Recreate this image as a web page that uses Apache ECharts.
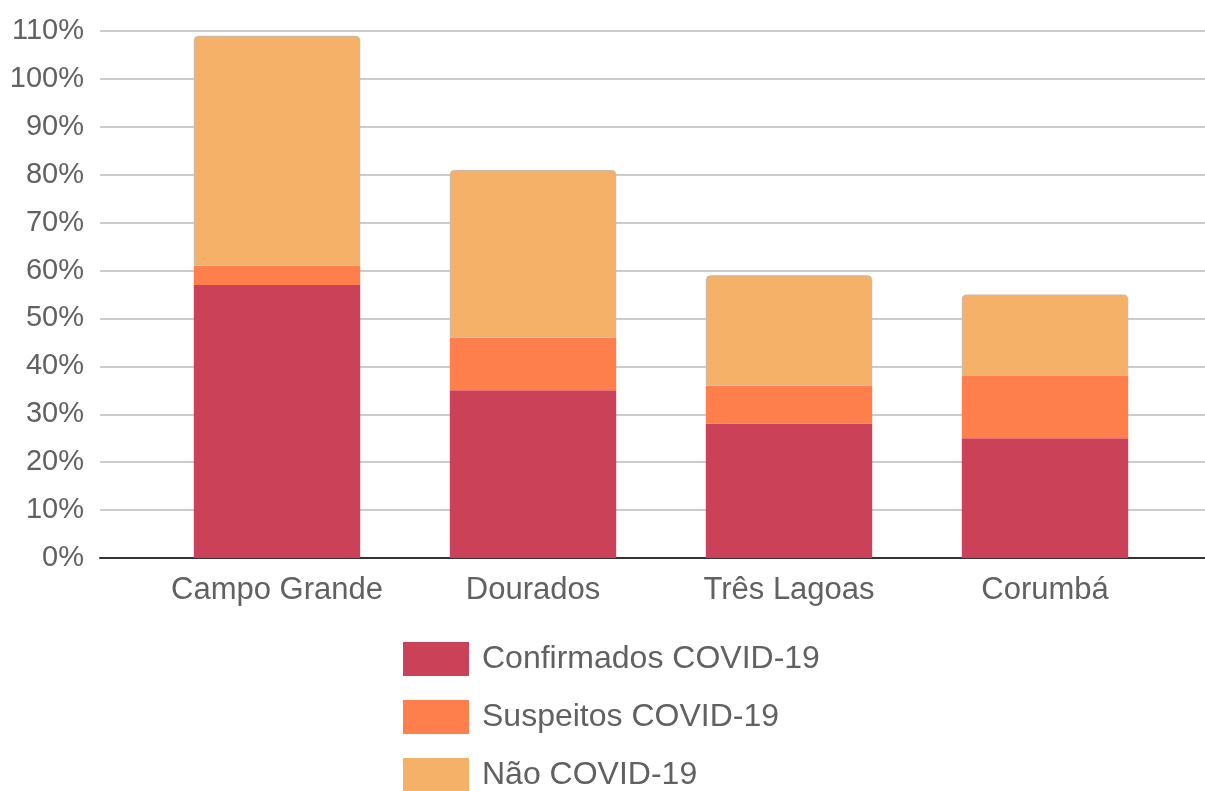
<!DOCTYPE html>
<html>
<head>
<meta charset="utf-8">
<script src="https://cdn.jsdelivr.net/npm/echarts@6/dist/echarts.min.js"></script>
<style>html,body{margin:0;padding:0;background:#fff}#c{width:1205px;height:791px}</style>
</head>
<body>
<div id="c"></div>
<script>
var categories = ['Campo Grande', 'Dourados', 'Três Lagoas', 'Corumbá'];
var confirmados = [57, 35, 28, 25];
var suspeitos = [4, 11, 8, 13];
var naoCovid = [48, 35, 23, 17];
var seriesNames = ['Confirmados COVID-19', 'Suspeitos COVID-19', 'Não COVID-19'];

var FONT = '"Liberation Sans", Arial, sans-serif';
var chart = echarts.init(document.getElementById('c'));
chart.setOption({
  animation: false,
  color: ['#CB4157', '#FE7F4C', '#F5B167'],
  textStyle: { fontFamily: FONT },
  grid: [
    { left: 100, right: 0, top: 31, bottom: 233 },
    { left: 149, right: 32, top: 31, bottom: 233 }
  ],
  xAxis: [
    { type: 'value', gridIndex: 0, min: 0, max: 1, axisLabel: { show: false }, axisTick: { show: false },
      splitLine: { show: false }, axisLine: { show: true, lineStyle: { color: '#333', width: 2 } } },
    { type: 'category', gridIndex: 1, data: categories, axisLine: { show: false }, axisTick: { show: false },
      axisLabel: { interval: 0, color: '#616161', fontSize: 31, margin: 17, fontFamily: FONT } }
  ],
  yAxis: [
    { type: 'value', gridIndex: 0, min: 0, max: 110, interval: 10,
      axisLabel: { formatter: '{value}%', color: '#616161', fontSize: 29, margin: 16, fontFamily: FONT },
      axisLine: { show: false }, axisTick: { show: false },
      splitLine: { lineStyle: { color: '#cccccc', width: 2 } } },
    { type: 'value', gridIndex: 1, min: 0, max: 110, show: false, splitLine: { show: false } }
  ],
  legend: {
    orient: 'vertical', left: 398, top: 637, height: 300, itemWidth: 66, itemHeight: 34, itemGap: 24,
    icon: 'rect', padding: 5,
    itemStyle: { borderWidth: 0 },
    textStyle: { color: '#616161', fontSize: 32, fontFamily: FONT, padding: [0, 0, 0, 8] },
    data: seriesNames
  },
  series: [
    { name: seriesNames[0], type: 'bar', stack: 's', xAxisIndex: 1, yAxisIndex: 1, data: confirmados, barCategoryGap: '35%' },
    { name: seriesNames[1], type: 'bar', stack: 's', xAxisIndex: 1, yAxisIndex: 1, data: suspeitos },
    { name: seriesNames[2], type: 'bar', stack: 's', xAxisIndex: 1, yAxisIndex: 1, data: naoCovid,
      itemStyle: { borderRadius: [4, 4, 0, 0], borderColor: '#c9b8a6', borderWidth: 1 } }
  ]
});
</script>
</body>
</html>
